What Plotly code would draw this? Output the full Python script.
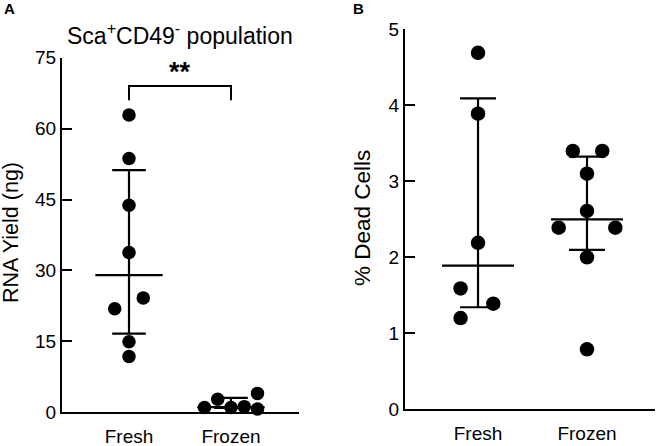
import numpy as np
import plotly.graph_objects as go

W, H = 663, 446
groups = ["Fresh", "Frozen"]

# Panel A: RNA yield (ng)
rna_fresh = [62.9, 53.7, 43.8, 33.8, 24.2, 21.9, 14.9, 11.8]
rna_frozen = [1.0, 2.75, 1.0, 1.2, 4.0, 0.7]
rna_ticks = [0, 15, 30, 45, 60, 75]

# Panel B: % dead cells
dead_fresh = [4.69, 3.89, 2.19, 1.59, 1.39, 1.20]
dead_frozen = [3.40, 3.40, 3.10, 2.61, 2.39, 2.39, 2.00, 0.79]
dead_ticks = [0, 1, 2, 3, 4, 5]

# horizontal scatter offsets of the dots (category units)
rna_fresh_jit = [0, 0, 0, 0, 0.14, -0.14, 0, 0]
rna_frozen_jit = [-0.26, -0.13, 0, 0.13, 0.26, 0.26]
dead_fresh_jit = [0, 0, 0, -0.16, 0.14, -0.16]
dead_frozen_jit = [-0.13, 0.14, 0, 0, -0.26, 0.26, 0, 0]

FONT = "Liberation Sans, Arial, sans-serif"
MED_HALF = 0.33
CAP_HALF = 0.165


def px_x(p):
    return p / W


def px_y(p):
    return 1 - p / H


fig = go.Figure()


def add_group(vals, jit, idx, xa, ya, msize):
    q1, med, q3 = np.percentile(vals, [25, 50, 75], method="weibull")
    xs = [idx - MED_HALF, idx + MED_HALF, None,
          idx - CAP_HALF, idx + CAP_HALF, None,
          idx - CAP_HALF, idx + CAP_HALF, None,
          idx, idx]
    ys = [med, med, None, q1, q1, None, q3, q3, None, q1, q3]
    fig.add_trace(go.Scatter(x=xs, y=ys, mode="lines", xaxis=xa, yaxis=ya,
                             line=dict(color="black", width=2.2),
                             showlegend=False, hoverinfo="skip", cliponaxis=False))
    fig.add_trace(go.Scatter(x=[idx + j for j in jit], y=vals, mode="markers",
                             xaxis=xa, yaxis=ya,
                             marker=dict(color="black", size=msize, line=dict(width=0)),
                             showlegend=False, cliponaxis=False))


add_group(rna_fresh, rna_fresh_jit, 0, "x", "y", 13.5)
add_group(rna_frozen, rna_frozen_jit, 1, "x", "y", 13.5)
add_group(dead_fresh, dead_fresh_jit, 0, "x2", "y2", 14.5)
add_group(dead_frozen, dead_frozen_jit, 1, "x2", "y2", 14.5)

xcommon = dict(tickvals=[0, 1], ticktext=groups, showline=True, linewidth=2,
               linecolor="black", ticks="", showgrid=False, zeroline=False,
               tickfont=dict(family=FONT, size=19, color="black"),
               ticklabelstandoff=6, fixedrange=True, automargin=False)
ycommon = dict(showline=True, linewidth=2, linecolor="black", ticks="inside",
               ticklen=10, tickwidth=2, tickcolor="black", showgrid=False,
               zeroline=False, tickfont=dict(family=FONT, size=19, color="black"),
               fixedrange=True, automargin=False)

fig.update_layout(
    width=W, height=H,
    margin=dict(l=0, r=0, t=0, b=0, autoexpand=False),
    paper_bgcolor="white", plot_bgcolor="white",
    xaxis=dict(domain=[px_x(62), px_x(299)], range=[-0.657, 1.667], anchor="y", **xcommon),
    yaxis=dict(domain=[px_y(412.3), px_y(57.7)], range=[0, 75], tickvals=rna_ticks,
               anchor="x", **ycommon),
    xaxis2=dict(domain=[px_x(405), px_x(655)], range=[-0.67, 1.624], anchor="y2", **xcommon),
    yaxis2=dict(domain=[px_y(409.3), px_y(29.3)], range=[0, 5], tickvals=dead_ticks,
                anchor="x2", **ycommon),
)

# significance bracket
bracket_top, bracket_leg = 69, 66
fig.add_shape(type="path", xref="x", yref="y",
              path=f"M 0,{bracket_leg} L 0,{bracket_top} L 1,{bracket_top} L 1,{bracket_leg}",
              line=dict(color="black", width=2))
fig.add_annotation(x=0.5, y=72, xref="x", yref="y", text="<b>**</b>", showarrow=False,
                   font=dict(family=FONT, size=27, color="black"), yanchor="middle")

annots = [
    dict(x=px_x(180), y=px_y(34), text="Sca<sup>+</sup>CD49<sup>-</sup> population",
         font=dict(family=FONT, size=23, color="black")),
    dict(x=px_x(11), y=px_y(233), text="RNA Yield (ng)", textangle=-90,
         font=dict(family=FONT, size=21.5, color="black")),
    dict(x=px_x(362), y=px_y(218), text="% Dead Cells", textangle=-90,
         font=dict(family=FONT, size=22.5, color="black")),
    dict(x=px_x(9), y=px_y(9), text="<b>A</b>", font=dict(family=FONT, size=15, color="black")),
    dict(x=px_x(358), y=px_y(9), text="<b>B</b>", font=dict(family=FONT, size=15, color="black")),
]
for a in annots:
    fig.add_annotation(xref="paper", yref="paper", showarrow=False,
                       xanchor="center", yanchor="middle", **a)

fig.write_html("out.html", config={"displayModeBar": False},
               post_script="document.body.style.margin='0px';document.body.style.overflow='hidden';")
